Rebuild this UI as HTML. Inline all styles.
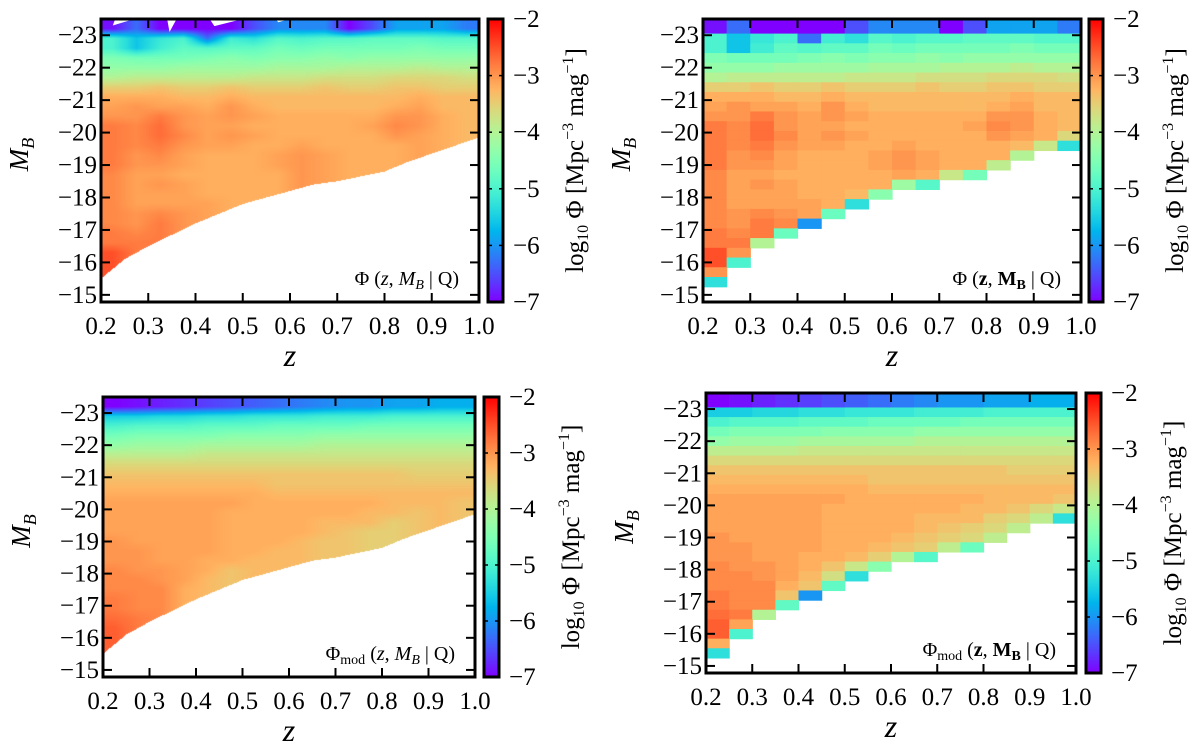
<!DOCTYPE html>
<html><head><meta charset="utf-8"><style>
html,body{margin:0;padding:0;background:#fff;}
#wrap{position:relative;width:1200px;height:748px;overflow:hidden;font-family:"Liberation Serif",serif;}
canvas{position:absolute;}
svg{position:absolute;left:0;top:0;}
svg text{font-family:"Liberation Serif","DejaVu Serif",serif;}
</style></head><body>
<div id="wrap">
<canvas id="c1"></canvas>
<canvas id="c3"></canvas>
<svg id="svg" width="1200" height="748"></svg>
</div>
<script>
// ---- data ----
const zBinLeft = [0.2,0.25,0.3,0.35,0.4,0.45,0.5,0.55,0.6,0.65,0.7,0.75,0.8,0.85,0.9,0.95];
const zTicks = [0.2,0.3,0.4,0.5,0.6,0.7,0.8,0.9,1.0];
const zTickLabels = ["0.2","0.3","0.4","0.5","0.6","0.7","0.8","0.9","1.0"];
const mTicks = [-23,-22,-21,-20,-19,-18,-17,-16,-15];
const mTickLabels = ["\u221223","\u221222","\u221221","\u221220","\u221219","\u221218","\u221217","\u221216","\u221215"];
const cbTicks = [-2,-3,-4,-5,-6,-7];
const cbTickLabels = ["\u22122","\u22123","\u22124","\u22125","\u22126","\u22127"];
const limZ = [0.2,0.25,0.3,0.35,0.4,0.45,0.5,0.55,0.6,0.65,0.7,0.75,0.8,0.85,0.9,0.95,1.0];
const limM = [-15.5,-16.1,-16.5,-16.85,-17.2,-17.5,-17.8,-18.0,-18.2,-18.4,-18.5,-18.65,-18.8,-19.1,-19.35,-19.6,-19.85];
const gridObs = [
"-6.9 -6.3 -7.0 -7.0 -7.0 -7.0 -6.5 -6.1 -6.1 -6.1 -7.0 -6.5 -5.9 -5.9 -5.9 -6.2",
"-6.9 -6.3 -7.0 -7.0 -7.0 -7.0 -6.5 -6.1 -6.1 -6.1 -7.0 -6.5 -5.9 -5.9 -5.9 -6.2",
"-5.0 -5.6 -5.2 -5.0 -6.3 -5.1 -5.3 -4.9 -5.0 -4.9 -4.9 -4.8 -4.8 -4.8 -4.9 -4.9",
"-5.0 -5.6 -5.1 -4.8 -4.9 -4.8 -4.8 -4.6 -4.7 -4.6 -4.6 -4.6 -4.6 -4.5 -4.6 -4.6",
"-4.5 -4.6 -4.6 -4.6 -4.5 -4.4 -4.5 -4.4 -4.4 -4.3 -4.4 -4.3 -4.3 -4.3 -4.3 -4.3",
"-4.3 -4.3 -4.3 -4.2 -4.2 -4.2 -4.2 -4.1 -4.1 -4.1 -4.0 -4.0 -4.0 -3.9 -4.0 -4.0",
"-4.0 -3.9 -3.9 -3.9 -3.9 -3.9 -3.8 -3.8 -3.8 -3.7 -3.7 -3.7 -3.6 -3.6 -3.6 -3.7",
"-3.5 -3.5 -3.4 -3.5 -3.5 -3.4 -3.5 -3.5 -3.5 -3.4 -3.5 -3.5 -3.4 -3.4 -3.5 -3.5",
"-3.2 -3.2 -3.2 -3.3 -3.3 -3.2 -3.3 -3.3 -3.3 -3.3 -3.3 -3.3 -3.3 -3.2 -3.3 -3.3",
"-3.1 -3.0 -3.1 -3.1 -3.2 -3.0 -3.2 -3.3 -3.3 -3.3 -3.3 -3.3 -3.2 -3.1 -3.3 -3.3",
"-3.0 -3.0 -2.8 -3.0 -3.1 -3.0 -3.1 -3.2 -3.2 -3.2 -3.2 -3.2 -3.0 -3.0 -3.2 -3.3",
"-2.8 -2.9 -2.7 -3.0 -3.1 -3.1 -3.2 -3.2 -3.2 -3.2 -3.2 -3.1 -2.9 -3.0 -3.2 -3.3",
"-2.8 -2.9 -2.7 -2.9 -3.1 -3.0 -3.1 -3.2 -3.2 -3.2 -3.2 -3.2 -3.0 -3.1 -3.2 -3.6",
"-2.8 -2.9 -2.8 -3.0 -3.1 -3.1 -3.2 -3.2 -3.1 -3.2 -3.2 -3.2 -3.2 -3.3 -3.8 -5.3",
"-2.8 -3.0 -2.9 -3.1 -3.2 -3.2 -3.2 -3.1 -3.0 -3.1 -3.2 -3.2 -3.2 -4.0 . .",
"-2.8 -3.0 -3.0 -3.1 -3.2 -3.2 -3.2 -3.1 -3.0 -3.1 -3.2 -3.2 -3.9 . . .",
"-2.9 -3.1 -3.1 -3.2 -3.2 -3.2 -3.2 -3.2 -3.1 -3.2 -3.8 -4.6 . . . .",
"-2.9 -3.1 -3.0 -3.1 -3.2 -3.2 -3.2 -3.2 -4.2 -4.9 . . . . . .",
"-2.9 -3.1 -3.1 -3.1 -3.2 -3.2 -3.3 -4.4 . . . . . . . .",
"-2.9 -3.1 -3.1 -3.1 -3.1 -3.2 -5.3 . . . . . . . . .",
"-2.9 -3.0 -2.9 -3.0 -3.1 -4.7 . . . . . . . . . .",
"-2.9 -3.0 -2.8 -2.9 -6.0 . . . . . . . . . . .",
"-2.8 -2.9 -2.8 -4.7 . . . . . . . . . . . .",
"-2.8 -2.8 -4.0 . . . . . . . . . . . . .",
"-2.5 -3.0 . . . . . . . . . . . . . .",
"-2.5 -5.0 . . . . . . . . . . . . . .",
"-3.0 . . . . . . . . . . . . . . .",
"-5.3 . . . . . . . . . . . . . . ."
];
const gridMod = [
"-7.0 -6.9 -6.8 -6.7 -6.6 -6.5 -6.4 -6.3 -6.2 -6.1 -6.0 -6.0 -5.9 -5.9 -5.8 -5.8",
"-7.0 -6.9 -6.8 -6.7 -6.6 -6.5 -6.4 -6.3 -6.2 -6.1 -6.0 -6.0 -5.9 -5.9 -5.8 -5.8",
"-5.5 -5.5 -5.4 -5.4 -5.3 -5.3 -5.2 -5.2 -5.2 -5.1 -5.1 -5.1 -5.0 -5.0 -5.0 -5.0",
"-5.0 -4.9 -4.9 -4.9 -4.8 -4.8 -4.8 -4.7 -4.7 -4.7 -4.7 -4.6 -4.6 -4.6 -4.6 -4.6",
"-4.6 -4.5 -4.5 -4.5 -4.5 -4.4 -4.4 -4.4 -4.4 -4.3 -4.3 -4.3 -4.3 -4.3 -4.3 -4.3",
"-4.3 -4.2 -4.2 -4.2 -4.1 -4.1 -4.1 -4.1 -4.1 -4.0 -4.0 -4.0 -4.0 -4.0 -4.0 -4.0",
"-3.9 -3.9 -3.9 -3.9 -3.8 -3.8 -3.8 -3.8 -3.8 -3.8 -3.8 -3.8 -3.8 -3.8 -3.8 -3.8",
"-3.6 -3.6 -3.6 -3.6 -3.6 -3.6 -3.6 -3.6 -3.6 -3.6 -3.6 -3.6 -3.6 -3.6 -3.6 -3.6",
"-3.4 -3.4 -3.4 -3.4 -3.4 -3.4 -3.4 -3.4 -3.4 -3.4 -3.4 -3.4 -3.4 -3.5 -3.5 -3.5",
"-3.3 -3.3 -3.3 -3.3 -3.3 -3.3 -3.3 -3.4 -3.4 -3.4 -3.4 -3.4 -3.4 -3.4 -3.4 -3.4",
"-3.2 -3.2 -3.2 -3.2 -3.2 -3.2 -3.2 -3.3 -3.3 -3.3 -3.3 -3.3 -3.3 -3.3 -3.3 -3.3",
"-3.1 -3.1 -3.1 -3.1 -3.1 -3.1 -3.2 -3.2 -3.2 -3.2 -3.2 -3.2 -3.3 -3.3 -3.3 -3.4",
"-3.1 -3.1 -3.1 -3.1 -3.1 -3.2 -3.2 -3.2 -3.2 -3.2 -3.2 -3.3 -3.3 -3.4 -3.6 -3.8",
"-3.1 -3.1 -3.1 -3.1 -3.1 -3.2 -3.2 -3.2 -3.2 -3.3 -3.3 -3.3 -3.5 -3.6 -3.9 -5.3",
"-3.1 -3.1 -3.1 -3.1 -3.1 -3.2 -3.2 -3.2 -3.2 -3.3 -3.4 -3.5 -3.6 -3.9 . .",
"-3.0 -3.1 -3.1 -3.1 -3.1 -3.2 -3.2 -3.2 -3.3 -3.4 -3.5 -3.6 -3.9 . . .",
"-3.0 -3.0 -3.1 -3.1 -3.1 -3.2 -3.2 -3.3 -3.4 -3.5 -3.9 -4.7 . . . .",
"-3.0 -3.0 -3.1 -3.1 -3.2 -3.2 -3.3 -3.5 -4.0 -4.9 . . . . . .",
"-2.9 -3.0 -3.0 -3.1 -3.2 -3.4 -3.8 -4.4 . . . . . . . .",
"-2.9 -2.9 -3.0 -3.1 -3.3 -3.7 -5.3 . . . . . . . . .",
"-2.9 -2.9 -2.9 -3.2 -3.4 -4.8 . . . . . . . . . .",
"-2.8 -2.9 -2.9 -3.4 -6.0 . . . . . . . . . . .",
"-2.8 -2.9 -2.9 -4.8 . . . . . . . . . . . .",
"-2.7 -2.8 -4.0 . . . . . . . . . . . . .",
"-2.6 -3.1 . . . . . . . . . . . . . .",
"-2.6 -5.0 . . . . . . . . . . . . . .",
"-3.2 . . . . . . . . . . . . . . .",
"-5.3 . . . . . . . . . . . . . . ."
];

// ---- helpers ----
const NS = "http://www.w3.org/2000/svg";
const svg = document.getElementById('svg');
const FONT = "'Liberation Serif', serif";
const M_TOP = -23.5, M_BOT = -14.78, Z0 = 0.2, Z1 = 1.0, ZW = 0.05, MROW = 0.3, MROW0 = -15.25;
function parseGrid(g){ return g.map(s => s.trim().split(/\s+/).map(t => t === '.' ? null : parseFloat(t))); }
const obs = parseGrid(gridObs), mod = parseGrid(gridMod);
const NR = obs.length;
function rainbow(v){
  let x = Math.max(0, Math.min(1, (v + 7) / 5));
  let r = Math.min(1, Math.abs(2 * x - 0.5)), g = Math.sin(Math.PI * x), b = Math.cos(Math.PI * x / 2);
  return [Math.round(r * 255), Math.round(g * 255), Math.round(b * 255)];
}
function rgb(v){ const c = rainbow(v); return `rgb(${c[0]},${c[1]},${c[2]})`; }
function mk(tag, attrs, parent){
  const e = document.createElementNS(NS, tag);
  for (const k in attrs) e.setAttribute(k, attrs[k]);
  if (tag === 'text') e.style.fontFamily = FONT;
  (parent || svg).appendChild(e);
  return e;
}
function limAt(z){
  for (let i = 0; i < limZ.length - 1; i++){
    if (z <= limZ[i+1]) { const t = (z - limZ[i]) / (limZ[i+1] - limZ[i]); return limM[i] + t * (limM[i+1] - limM[i]); }
  }
  return limM[limM.length - 1];
}
function rowTopM(i){ return MROW0 - MROW * (NR - i); }
function rowBotM(i){ return MROW0 - MROW * (NR - 1 - i); }

const panels = [
  {id:'p1', x:101, y:19, w:378, h:283, cbx:488, cbw:15, kind:'cont', grid:obs, canvas:'c1', ann:'obs'},
  {id:'p2', x:703, y:19, w:378, h:283, cbx:1089, cbw:14, kind:'bin', grid:obs, ann:'obsbin'},
  {id:'p3', x:103, y:397, w:372, h:280, cbx:484, cbw:15, kind:'cont', grid:mod, canvas:'c3', ann:'mod'},
  {id:'p4', x:706, y:393, w:370, h:280, cbx:1086, cbw:15, kind:'bin', grid:mod, ann:'modbin'}
];

const defs = mk('defs', {});
const lg = mk('linearGradient', {id:'cbgrad', x1:'0', y1:'1', x2:'0', y2:'0'}, defs);
for (let i = 0; i <= 40; i++){
  const v = -7 + 5 * i / 40;
  mk('stop', {offset: (i/40).toFixed(3), 'stop-color': rgb(v)}, lg);
}

panels.forEach((P, pi) => {
  const xs = z => P.x + (z - Z0) / (Z1 - Z0) * P.w;
  const ys = m => P.y + (m - M_TOP) / (M_BOT - M_TOP) * P.h;
  const g = mk('g', {});
  
  
  const clipId = 'clip' + pi;
  const cp = mk('clipPath', {id: clipId}, defs);
  mk('rect', {x:P.x, y:P.y, width:P.w, height:P.h}, cp);

  if (P.kind === 'bin'){
    const cells = mk('g', {'clip-path': `url(#${clipId})`}, g);
    
    
    P.grid.forEach((row, i) => {
      row.forEach((v, j) => {
        if (v === null) return;
        const x0 = xs(zBinLeft[j]), x1 = xs(zBinLeft[j] + ZW);
        const y0 = ys(rowTopM(i)), y1 = ys(rowBotM(i));
        const r = mk('rect', {x:x0.toFixed(2), y:y0.toFixed(2), width:(x1-x0+0.6).toFixed(2), height:(y1-y0+0.6).toFixed(2), fill:rgb(v)}, cells);
        
        
      });
    });
  } else {
    const cv = document.getElementById(P.canvas);
    cv.width = P.w; cv.height = P.h;
    cv.style.left = P.x + 'px'; cv.style.top = P.y + 'px';
    const ctx = cv.getContext('2d');
    const img = ctx.createImageData(P.w, P.h);
    const sm = P.grid.map(r => r.slice());
    for (let j = 0; j < 16; j++){
      let lastRow = -1;
      for (let i = 0; i < NR; i++) if (P.grid[i][j] !== null) lastRow = i;
      const src = Math.max(0, lastRow - 2);
      for (let i = lastRow - 1; i < NR; i++) if (i >= 0) sm[i][j] = P.grid[src][j];
    }
    for (let py = 0; py < P.h; py++){
      const m = M_TOP + (py + 0.5) / P.h * (M_BOT - M_TOP);
      let fr = (m - rowTopM(0)) / MROW - 0.5;
      fr = Math.max(0, Math.min(NR - 1, fr));
      const i0 = Math.floor(fr), i1 = Math.min(NR - 1, i0 + 1), ti = fr - i0;
      for (let px = 0; px < P.w; px++){
        const z = Z0 + (px + 0.5) / P.w * (Z1 - Z0);
        const k = (py * P.w + px) * 4;
        if (m > limAt(z)) { img.data[k]=255; img.data[k+1]=255; img.data[k+2]=255; img.data[k+3]=255; continue; }
        let fc = (z - Z0) / ZW - 0.5;
        fc = Math.max(0, Math.min(15, fc));
        const j0 = Math.floor(fc), j1 = Math.min(15, j0 + 1), tj = fc - j0;
        const v = (sm[i0][j0]*(1-tj) + sm[i0][j1]*tj)*(1-ti) + (sm[i1][j0]*(1-tj) + sm[i1][j1]*tj)*ti;
        const c = rainbow(v);
        img.data[k]=c[0]; img.data[k+1]=c[1]; img.data[k+2]=c[2]; img.data[k+3]=255;
      }
    }
    ctx.putImageData(img, 0, 0);
    if (pi === 0){
      [[0.34,-23.5,0.36,-23.5,0.345,-23.1],[0.43,-23.5,0.5,-23.5,0.44,-23.28],[0.23,-23.5,0.27,-23.5,0.225,-23.3],[0.57,-23.5,0.6,-23.5,0.575,-23.4]].forEach(t => {
        const p = mk('polygon', {points:`${xs(t[0])},${ys(t[1])} ${xs(t[2])},${ys(t[3])} ${xs(t[4])},${ys(t[5])}`, fill:'#fff'}, g);
        
        
      });
    }
  }

  zTicks.forEach((z, k) => {
    const x = xs(z);
    mk('line', {x1:x, y1:P.y+P.h, x2:x, y2:P.y+P.h-9, stroke:'#000', 'stroke-width':2}, g);
    mk('line', {x1:x, y1:P.y, x2:x, y2:P.y+9, stroke:'#000', 'stroke-width':2}, g);
    const t = mk('text', {x:x, y:P.y+P.h+32, 'text-anchor':'middle', 'font-size':25}, g);
    t.textContent = zTickLabels[k];
    
    
  });
  mTicks.forEach((m, k) => {
    const y = ys(m);
    mk('line', {x1:P.x, y1:y, x2:P.x+9, y2:y, stroke:'#000', 'stroke-width':2}, g);
    mk('line', {x1:P.x+P.w, y1:y, x2:P.x+P.w-9, y2:y, stroke:'#000', 'stroke-width':2}, g);
    const t = mk('text', {x:P.x-4, y:y+8, 'text-anchor':'end', 'font-size':25}, g);
    t.textContent = mTickLabels[k];
    
    
  });
  const fr = mk('rect', {x:P.x, y:P.y, width:P.w, height:P.h, fill:'none', stroke:'#000', 'stroke-width':3}, g);
  
  

  const xt = mk('text', {x:P.x+P.w/2, y:P.y+P.h+64, 'text-anchor':'middle', 'font-size':32, 'font-style':'italic'}, g);
  xt.textContent = 'z';
  
  
  const yc = P.y + P.h/2 - 6;
  const yt = mk('text', {x:0, y:0, transform:`translate(${P.x-73},${yc}) rotate(-90)`, 'text-anchor':'middle', 'font-size':27, 'font-style':'italic'}, g);
  yt.innerHTML = 'M<tspan font-size="18" dy="6">B</tspan>';
  
  

  const an = mk('text', {x:P.x+P.w-20, y:P.y+P.h-17, 'text-anchor':'end', 'font-size':20}, g);
  const bold = (P.ann === 'obsbin' || P.ann === 'modbin');
  const sub = (P.ann === 'mod' || P.ann === 'modbin') ? '<tspan font-size="14" dy="4">mod</tspan><tspan dy="-4"> </tspan>' : ' ';
  an.innerHTML = bold
    ? `Φ${sub}(<tspan font-weight="bold">z</tspan>, <tspan font-weight="bold">M</tspan><tspan font-weight="bold" font-size="14" dy="4">B</tspan><tspan dy="-4"> | Q)</tspan>`
    : `Φ${sub}(<tspan font-style="italic">z</tspan>, <tspan font-style="italic">M</tspan><tspan font-style="italic" font-size="14" dy="4">B</tspan><tspan dy="-4"> | Q)</tspan>`;
  
  

  const cb = mk('g', {}, g);
  
  
  mk('rect', {x:P.cbx, y:P.y, width:P.cbw, height:P.h, fill:'url(#cbgrad)'}, cb);
  const cys = v => P.y + (-2 - v) / 5 * P.h;
  cbTicks.forEach((v, k) => {
    const y = cys(v);
    if (v !== -2 && v !== -7){
      mk('line', {x1:P.cbx, y1:y, x2:P.cbx+4, y2:y, stroke:'#000', 'stroke-width':1.5}, cb);
      mk('line', {x1:P.cbx+P.cbw, y1:y, x2:P.cbx+P.cbw-4, y2:y, stroke:'#000', 'stroke-width':1.5}, cb);
    }
    const t = mk('text', {x:P.cbx+P.cbw+10, y:y+8, 'font-size':25}, cb);
    t.textContent = cbTickLabels[k];
    
    
  });
  mk('rect', {x:P.cbx, y:P.y, width:P.cbw, height:P.h, fill:'none', stroke:'#000', 'stroke-width':3}, cb);
  const cl = mk('text', {x:0, y:0, transform:`translate(${P.cbx+P.cbw+80},${P.y+P.h/2}) rotate(-90)`, 'text-anchor':'middle', 'font-size':25}, cb);
  cl.innerHTML = 'log<tspan font-size="16" dy="5">10</tspan><tspan dy="-5"> Φ [Mpc</tspan><tspan font-size="16" dy="-10">−3</tspan><tspan dy="10"> mag</tspan><tspan font-size="16" dy="-10">−1</tspan><tspan dy="10">]</tspan>';
  
  
});
</script>
</body></html>
